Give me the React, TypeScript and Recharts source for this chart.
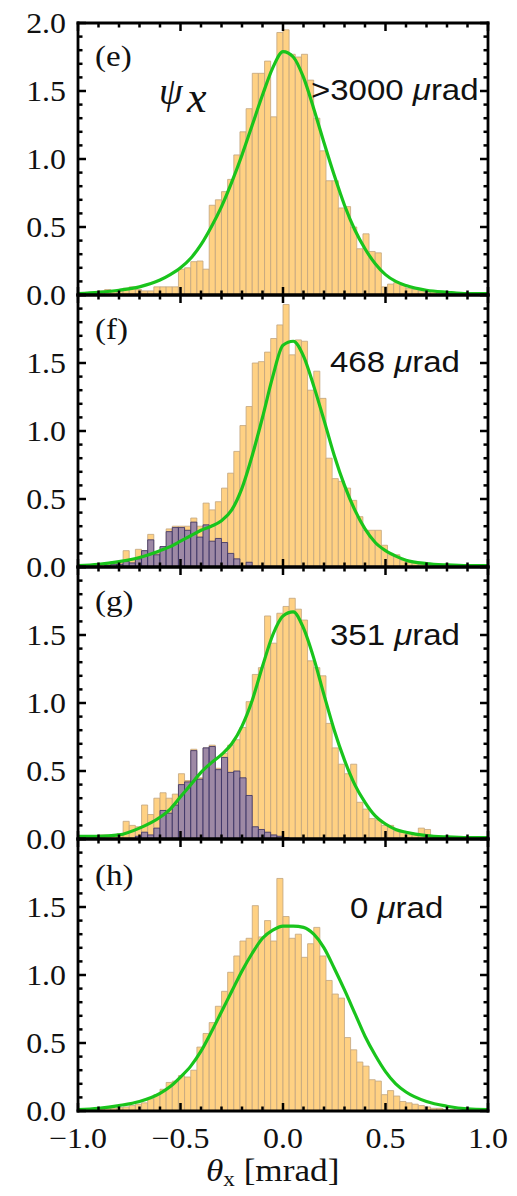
import { BarChart, Bar, LineChart, Line, XAxis, YAxis } from "recharts";

// bins are 0.03 mrad wide, edges on multiples of 0.03 (k = -34 .. 33)
const BIN_W = 0.03;
const BIN_CENTERS = Array.from({ length: 68 }, (_, i) => (i - 34 + 0.5) * BIN_W);

const E_HIST = [
  0, 0.01, 0.01, 0.02, 0.03, 0.04, 0.03, 0.03, 0.05, 0.06,
  0.04, 0.03, 0.03, 0.06, 0.06, 0.06, 0.06, 0.19, 0.2, 0.245,
  0.25, 0.19, 0.66, 0.7, 0.76, 0.85, 1.03, 1.2, 1.37, 1.63,
  1.63, 1.72, 1.31, 1.93, 1.95, 1.77, 1.75, 1.77, 1.58, 1.3,
  1.06, 0.84, 0.84, 0.64, 0.65, 0.5, 0.34, 0.45, 0.32, 0.31,
  0.06, 0.08, 0.09, 0.07, 0.05, 0.04, 0.03, 0.02, 0.03, 0.02,
  0.01, 0.02, 0.01, 0.01, 0.01, 0, 0, 0,
];
const F_HIST = [
  0, 0.01, 0.01, 0.02, 0.02, 0.03, 0.04, 0.04, 0.12, 0.06,
  0.13, 0.12, 0.24, 0.1, 0.15, 0.28, 0.3, 0.3, 0.3, 0.36,
  0.3, 0.47, 0.42, 0.48, 0.58, 0.69, 0.85, 1.04, 1.18, 1.5,
  1.51, 1.58, 1.68, 1.78, 1.93, 1.56, 1.67, 1.66, 1.3, 1.44,
  1.24, 0.8, 0.65, 0.63, 0.58, 0.49, 0.37, 0.27, 0.27, 0.27,
  0.16, 0.09, 0.09, 0.05, 0.04, 0.03, 0.02, 0.02, 0.01, 0.01,
  0.01, 0.01, 0, 0.01, 0, 0, 0, 0,
];
const F_CUT = [
  0, 0, 0, 0, 0, 0.01, 0.02, 0.02, 0.04, 0.03,
  0.06, 0.12, 0.2, 0.09, 0.15, 0.26, 0.29, 0.29, 0.27, 0.33,
  0.22, 0.31, 0.19, 0.21, 0.18, 0.1, 0.06, 0, 0.035, 0,
  0, 0, 0, 0, 0, 0, 0, 0, 0, 0,
  0, 0, 0, 0, 0, 0, 0, 0, 0, 0,
  0, 0, 0, 0, 0, 0, 0, 0, 0, 0,
  0, 0, 0, 0, 0, 0, 0, 0,
];
const G_HIST = [
  0, 0.01, 0.02, 0.02, 0.03, 0.03, 0.03, 0.04, 0.13, 0.1,
  0.09, 0.25, 0.18, 0.3, 0.34, 0.3, 0.33, 0.48, 0.43, 0.66,
  0.45, 0.67, 0.69, 0.52, 0.63, 0.69, 0.73, 0.82, 1.01, 1.21,
  1.26, 1.64, 1.44, 1.66, 1.71, 1.77, 1.69, 1.61, 1.31, 1.26,
  1.2, 0.85, 0.67, 0.55, 0.48, 0.55, 0.27, 0.22, 0.15, 0.14,
  0.1, 0.1, 0.06, 0.05, 0.04, 0.04, 0.08, 0.07, 0.02, 0.01,
  0.01, 0.01, 0, 0, 0, 0, 0, 0,
];
const G_CUT = [
  0, 0, 0, 0, 0, 0, 0, 0, 0, 0,
  0.02, 0.05, 0.03, 0.08, 0.21, 0.19, 0.25, 0.4, 0.42, 0.65,
  0.44, 0.67, 0.68, 0.51, 0.6, 0.49, 0.5, 0.45, 0.32, 0.09,
  0.07, 0.05, 0.03, 0.02, 0.01, 0, 0, 0, 0, 0,
  0, 0, 0, 0, 0, 0, 0, 0, 0, 0,
  0, 0, 0, 0, 0, 0, 0, 0, 0, 0,
  0, 0, 0, 0, 0, 0, 0, 0,
];
const H_HIST = [
  0, 0.005, 0.01, 0.01, 0.015, 0.02, 0.02, 0.025, 0.03, 0.04,
  0.05, 0.06, 0.09, 0.12, 0.16, 0.21, 0.22, 0.26, 0.25, 0.3,
  0.47, 0.57, 0.65, 0.77, 0.88, 1.02, 1.14, 1.25, 1.27, 1.51,
  1.28, 1.4, 1.25, 1.71, 1.43, 1.27, 1.3, 1.13, 1.23, 1.35,
  1.14, 0.96, 0.86, 0.83, 0.54, 0.45, 0.36, 0.33, 0.23, 0.22,
  0.12, 0.15, 0.11, 0.07, 0.06, 0.05, 0.04, 0.03, 0.02, 0.02,
  0.01, 0.01, 0.005, 0.005, 0, 0, 0, 0,
];

// green simulation curves, read at these angles
const CURVE_X = [
  -1, -0.9, -0.8, -0.7, -0.6, -0.55, -0.5, -0.45, -0.4, -0.35, -0.3,
  -0.25, -0.2, -0.15, -0.1, -0.05, 0, 0.05, 0.1, 0.15, 0.2, 0.25,
  0.3, 0.35, 0.4, 0.45, 0.5, 0.55, 0.6, 0.7, 0.8, 0.9, 1,
];
const E_FIT = [0.01, 0.02, 0.035, 0.06, 0.11, 0.15, 0.2, 0.27, 0.37, 0.5, 0.65, 0.83, 1.03, 1.25, 1.47, 1.67, 1.79, 1.75, 1.6, 1.37, 1.12, 0.88, 0.66, 0.48, 0.34, 0.23, 0.15, 0.1, 0.07, 0.035, 0.02, 0.01, 0.01];
const F_FIT = [0.01, 0.02, 0.04, 0.07, 0.12, 0.15, 0.19, 0.23, 0.27, 0.3, 0.34, 0.42, 0.58, 0.82, 1.1, 1.4, 1.63, 1.66, 1.55, 1.33, 1.08, 0.82, 0.6, 0.42, 0.28, 0.18, 0.12, 0.08, 0.05, 0.025, 0.015, 0.01, 0.01];
const G_FIT = [0.02, 0.02, 0.03, 0.08, 0.16, 0.22, 0.31, 0.4, 0.49, 0.56, 0.62, 0.7, 0.83, 1.02, 1.27, 1.5, 1.64, 1.67, 1.55, 1.33, 1.06, 0.8, 0.58, 0.4, 0.27, 0.17, 0.11, 0.07, 0.05, 0.025, 0.015, 0.01, 0.01];
const H_FIT = [0.01, 0.02, 0.04, 0.07, 0.13, 0.18, 0.25, 0.33, 0.44, 0.58, 0.73, 0.88, 1.03, 1.16, 1.27, 1.33, 1.36, 1.36, 1.35, 1.3, 1.2, 1.05, 0.89, 0.72, 0.55, 0.41, 0.29, 0.2, 0.14, 0.07, 0.035, 0.015, 0.01];

const X_TICKS = [-1, -0.9, -0.8, -0.7, -0.6, -0.5, -0.4, -0.3, -0.2, -0.1, 0, 0.1, 0.2, 0.3, 0.4, 0.5, 0.6, 0.7, 0.8, 0.9, 1];
const Y_TICKS = [0, 0.1, 0.2, 0.3, 0.4, 0.5, 0.6, 0.7, 0.8, 0.9, 1, 1.1, 1.2, 1.3, 1.4, 1.5, 1.6, 1.7, 1.8, 1.9, 2];

const PANELS = [
  { id: "e", hist: E_HIST, cut: null, fit: E_FIT, note: ">3000 ", top: true },
  { id: "f", hist: F_HIST, cut: F_CUT, fit: F_FIT, note: "468 ", top: false },
  { id: "g", hist: G_HIST, cut: G_CUT, fit: G_FIT, note: "351 ", top: false },
  { id: "h", hist: H_HIST, cut: null, fit: H_FIT, note: "0 ", top: false },
];

const W = 517;
const H = 1196;
const PLOT_L = 78;
const PLOT_R = 488;
const PH = 272;
const PANEL_TOP = [23, 295, 567, 839];
const MT = 24;
const BAR_PX = ((PLOT_R - PLOT_L) * BIN_W) / 2 - 0.05;

const SERIF = '"Liberation Serif", "Times New Roman", serif';
const SANS = '"Liberation Sans", Arial, sans-serif';
const ORANGE = "#FFD183";
const ORANGE_EDGE = "#C2A57E";
const PURPLE = "#9E89A5";
const PURPLE_EDGE = "#342C62";
const GREEN = "#19C41C";

const isMajor = (v: number) => Math.abs(v * 2 - Math.round(v * 2)) < 1e-6;
const fmt = (v: number) => v.toFixed(1).replace("-", "\u2212");
const frame = { stroke: "#000", strokeWidth: 2.8, strokeLinecap: "square" as const };

function xTick(side: "b" | "t", labels: boolean) {
  return (props: any) => {
    const { x, payload } = props;
    const v = payload.value as number;
    const len = isMajor(v) ? 8 : 4.5;
    const y0 = side === "b" ? MT + PH : MT;
    const y1 = side === "b" ? y0 - len : y0 + len;
    return (
      <g>
        <line x1={x} x2={x} y1={y0} y2={y1} stroke="#000" strokeWidth={2.5} />
        {labels && side === "b" && isMajor(v) && (
          <text transform={`translate(${x},${MT + PH + 37}) scale(1.1,1)`} textAnchor="middle" fontFamily={SERIF} fontSize={29} fill="#111">
            {fmt(v)}
          </text>
        )}
      </g>
    );
  };
}

function yTick(side: "l" | "r", showTop: boolean) {
  return (props: any) => {
    const { y, payload } = props;
    const v = payload.value as number;
    const major = isMajor(v);
    const len = major ? 8 : 4.5;
    const x0 = side === "l" ? PLOT_L : PLOT_R;
    const x1 = side === "l" ? x0 + len : x0 - len;
    const label = side === "l" && major && (v < 1.99 || showTop);
    return (
      <g>
        <line x1={x0} x2={x1} y1={y} y2={y} stroke="#000" strokeWidth={2.5} />
        {label && (
          <text transform={`translate(${PLOT_L - 12},${y + 10}) scale(1.1,1)`} textAnchor="end" fontFamily={SERIF} fontSize={29} fill="#111">
            {fmt(v)}
          </text>
        )}
      </g>
    );
  };
}

function Panel({ idx }: { idx: number }) {
  const p = PANELS[idx];
  const last = idx === PANELS.length - 1;
  const mb = last ? 50 : 24;
  const h = PH + MT + mb;
  const margin = { top: MT, right: W - PLOT_R, bottom: mb, left: PLOT_L };
  // axes are 1px thick (a 0 size axis is not drawn), so the margins give that pixel back
  const lineMargin = { top: MT - 1, right: W - PLOT_R - 1, bottom: mb - 1, left: PLOT_L - 1 };
  const rows = BIN_CENTERS.map((x, i) => ({
    x,
    hist: p.hist[i] > 0 ? p.hist[i] : null,
    cut: p.cut && p.cut[i] > 0 ? p.cut[i] : null,
  }));
  const fitRows = CURVE_X.map((x, i) => ({ x, fit: p.fit[i] }));
  return (
    <div style={{ position: "absolute", left: 0, top: PANEL_TOP[idx] - MT, width: W, height: h }}>
      <div style={{ position: "absolute", left: 0, top: 0 }}>
        <BarChart width={W} height={h} data={rows} margin={margin} barGap={-BAR_PX} barCategoryGap={0}>
          <XAxis dataKey="x" type="number" domain={[-1, 1]} allowDataOverflow hide />
          <YAxis type="number" domain={[0, 2]} allowDataOverflow hide />
          <Bar dataKey="hist" fill={ORANGE} stroke={ORANGE_EDGE} strokeWidth={0.8} barSize={BAR_PX} isAnimationActive={false} />
          {p.cut && (
            <Bar dataKey="cut" fill={PURPLE} stroke={PURPLE_EDGE} strokeWidth={0.8} barSize={BAR_PX} isAnimationActive={false} />
          )}
        </BarChart>
      </div>
      <div style={{ position: "absolute", left: 0, top: 0 }}>
        <LineChart width={W} height={h} data={fitRows} margin={lineMargin}>
          <XAxis xAxisId="b" dataKey="x" type="number" domain={[-1, 1]} allowDataOverflow ticks={X_TICKS} interval={0}
            height={1} axisLine={frame} tickLine={false} tick={xTick("b", last)} />
          <XAxis xAxisId="t" orientation="top" dataKey="x" type="number" domain={[-1, 1]} allowDataOverflow ticks={X_TICKS} interval={0}
            height={1} axisLine={frame} tickLine={false} tick={xTick("t", false)} />
          <YAxis yAxisId="l" type="number" domain={[0, 2]} allowDataOverflow ticks={Y_TICKS} interval={0}
            width={1} axisLine={frame} tickLine={false} tick={yTick("l", p.top)} />
          <YAxis yAxisId="r" orientation="right" type="number" domain={[0, 2]} allowDataOverflow ticks={Y_TICKS} interval={0}
            width={1} axisLine={frame} tickLine={false} tick={yTick("r", false)} />
          <Line xAxisId="b" yAxisId="l" dataKey="fit" type="monotone" stroke={GREEN} strokeWidth={3.2} dot={false} isAnimationActive={false} />
        </LineChart>
      </div>
    </div>
  );
}

const LABEL_BASE = [66, 339, 611, 885];
const NOTE_X = [311, 330, 330, 350];
const NOTE_BASE = [100, 372, 645, 918];

export default function App() {
  return (
    <div style={{ position: "absolute", left: 0, top: 0, width: W, height: H, background: "#fff", overflow: "hidden" }}>
      {PANELS.map((_, i) => (
        <Panel key={i} idx={i} />
      ))}
      <svg width={W} height={H} style={{ position: "absolute", left: 0, top: 0, pointerEvents: "none" }}>
        {PANELS.map((p, i) => (
          <g key={p.id}>
            <text transform={`translate(95,${LABEL_BASE[i]}) scale(1.1,1)`} fontFamily={SERIF} fontSize={30} fill="#111">
              ({p.id})
            </text>
            <text transform={`translate(${NOTE_X[i]},${NOTE_BASE[i]}) scale(1.1,1)`} fontFamily={SANS} fontSize={30} fill="#111">
              {p.note}
              <tspan fontStyle="italic">μ</tspan>rad
            </text>
          </g>
        ))}
        <text x={159} y={104} fontFamily={SERIF} fontStyle="italic" fontSize={38} fill="#111">ψ</text>
        <text x={187} y={112} fontFamily={SERIF} fontStyle="italic" fontSize={44} fill="#111">x</text>
        <text transform="translate(206,1181) scale(1.1,1)" fontFamily={SERIF} fontSize={32} fill="#111">
          <tspan fontStyle="italic">θ</tspan>
          <tspan fontSize={21} dy={5}>x</tspan>
          <tspan dy={-5}> [mrad]</tspan>
        </text>
      </svg>
    </div>
  );
}
